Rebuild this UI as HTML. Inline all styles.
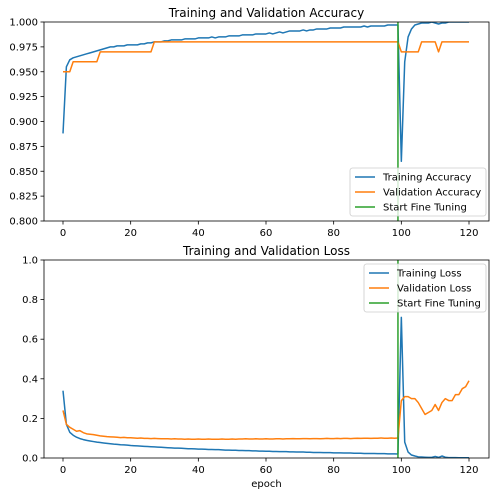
<!DOCTYPE html>
<html><head><meta charset="utf-8"><style>
html,body{margin:0;padding:0;background:#fff;}
svg{display:block;font-family:"DejaVu Sans","Liberation Sans",sans-serif;}
</style></head><body>
<svg id="c" width="496" height="496" xmlns="http://www.w3.org/2000/svg"></svg>
<script>
const epochs = Array.from({length:121},(_, i)=>i);
const trainAcc = [0.888,0.955,0.962,0.964,0.965,0.966,0.967,0.968,0.969,0.970,
0.971,0.972,0.973,0.974,0.975,0.975,0.976,0.976,0.976,0.977,
0.977,0.977,0.977,0.978,0.978,0.979,0.979,0.980,0.980,0.980,
0.981,0.981,0.982,0.982,0.982,0.982,0.983,0.983,0.983,0.983,
0.984,0.984,0.984,0.984,0.985,0.984,0.985,0.985,0.985,0.986,
0.986,0.986,0.986,0.987,0.987,0.987,0.987,0.988,0.988,0.988,
0.988,0.989,0.988,0.989,0.990,0.989,0.990,0.991,0.991,0.991,
0.991,0.992,0.991,0.992,0.992,0.993,0.993,0.993,0.993,0.994,
0.994,0.994,0.994,0.995,0.995,0.995,0.995,0.995,0.995,0.996,
0.995,0.996,0.996,0.996,0.996,0.996,0.997,0.997,0.997,0.997,
0.860,0.960,0.985,0.993,0.997,0.998,0.999,0.999,0.999,1.000,0.999,0.998,0.999,0.999,1.000,1.000,1.000,1.000,1.000,1.000,1.000];
const valAcc = [0.95,0.95,0.95,0.96,0.96,0.96,0.96,0.96,0.96,0.96,
0.96,0.97,0.97,0.97,0.97,0.97,0.97,0.97,0.97,0.97,
0.97,0.97,0.97,0.97,0.97,0.97,0.97,0.98,0.98,0.98,
0.98,0.98,0.98,0.98,0.98,0.98,0.98,0.98,0.98,0.98,
0.98,0.98,0.98,0.98,0.98,0.98,0.98,0.98,0.98,0.98,
0.98,0.98,0.98,0.98,0.98,0.98,0.98,0.98,0.98,0.98,
0.98,0.98,0.98,0.98,0.98,0.98,0.98,0.98,0.98,0.98,
0.98,0.98,0.98,0.98,0.98,0.98,0.98,0.98,0.98,0.98,
0.98,0.98,0.98,0.98,0.98,0.98,0.98,0.98,0.98,0.98,
0.98,0.98,0.98,0.98,0.98,0.98,0.98,0.98,0.98,0.98,
0.97,0.97,0.97,0.97,0.97,0.97,0.98,0.98,0.98,0.98,0.98,0.97,0.98,0.98,0.98,0.98,0.98,0.98,0.98,0.98,0.98];
const trainLoss = [0.34,0.17,0.13,0.115,0.105,0.098,0.093,0.089,0.086,0.083,
0.080,0.078,0.076,0.074,0.072,0.070,0.069,0.067,0.066,0.065,
0.063,0.062,0.061,0.060,0.059,0.058,0.057,0.056,0.055,0.054,
0.053,0.052,0.051,0.050,0.050,0.049,0.048,0.047,0.047,0.046,
0.045,0.045,0.044,0.043,0.043,0.042,0.042,0.041,0.040,0.040,
0.039,0.039,0.038,0.038,0.037,0.037,0.036,0.036,0.035,0.035,
0.034,0.034,0.033,0.033,0.032,0.032,0.032,0.031,0.031,0.030,
0.030,0.030,0.029,0.029,0.028,0.028,0.028,0.027,0.027,0.027,
0.026,0.026,0.026,0.025,0.025,0.025,0.024,0.024,0.024,0.023,
0.023,0.023,0.023,0.022,0.022,0.022,0.021,0.021,0.021,0.020,
0.71,0.08,0.03,0.015,0.01,0.006,0.005,0.004,0.003,0.003,0.008,0.003,0.01,0.004,0.002,0.002,0.002,0.001,0.001,0.001,0.001];
const valLoss = [0.24,0.17,0.155,0.145,0.135,0.138,0.128,0.122,0.12,0.118,
0.115,0.112,0.11,0.108,0.107,0.106,0.105,0.103,0.104,0.102,
0.102,0.101,0.100,0.101,0.099,0.099,0.098,0.099,0.098,0.097,
0.097,0.097,0.096,0.097,0.096,0.096,0.095,0.096,0.095,0.095,
0.096,0.095,0.095,0.096,0.095,0.095,0.095,0.096,0.095,0.095,
0.096,0.095,0.096,0.096,0.097,0.096,0.096,0.097,0.096,0.096,
0.097,0.096,0.096,0.097,0.097,0.096,0.097,0.097,0.098,0.097,
0.097,0.098,0.098,0.097,0.098,0.098,0.097,0.098,0.099,0.098,
0.098,0.099,0.098,0.099,0.099,0.098,0.099,0.100,0.099,0.100,
0.100,0.099,0.100,0.100,0.101,0.100,0.100,0.101,0.100,0.101,
0.29,0.31,0.31,0.30,0.30,0.28,0.25,0.22,0.23,0.24,0.27,0.24,0.28,0.30,0.29,0.29,0.32,0.32,0.35,0.36,0.39];
const fineTuneEpoch = [99];
const xTicks = [0,20,40,60,80,100,120];
const accTicks = ["0.800","0.825","0.850","0.875","0.900","0.925","0.950","0.975","1.000"];
const lossTicks = ["0.0","0.2","0.4","0.6","0.8","1.0"];

const NS="http://www.w3.org/2000/svg";
const svg=document.getElementById('c');
function mk(t,a,p){const e=document.createElementNS(NS,t);for(const k in a)e.setAttribute(k,a[k]);(p||svg).appendChild(e);return e;}
const L=44,R=489;
const xs=v=>63+(v/120)*406;
function panel(top,bot,ymin,ymax,ticks,title,s1,s2,n1,n2,legend,id){
  const ys=v=>bot-(v-ymin)/(ymax-ymin)*(bot-top);
  const g=mk('g',{});
  
  
  const cp=mk('clipPath',{id:'cp'+id},g);mk('rect',{x:L,y:top,width:R-L,height:bot-top},cp);
  const t=mk('text',{x:(L+R)/2,y:top-5,'text-anchor':'middle','font-size':'12'},g);t.textContent=title;
  
  
  ticks.forEach(tk=>{const v=parseFloat(tk),y=ys(v);
    mk('line',{x1:L-3.5,x2:L,y1:y,y2:y,stroke:'#000','stroke-width':0.8},g);
    const tx=mk('text',{x:L-6,y:y+3.5,'text-anchor':'end','font-size':'10'},g);tx.textContent=tk;
    
    });
  xTicks.forEach(v=>{const x=xs(v);
    mk('line',{x1:x,x2:x,y1:bot,y2:bot+3.5,stroke:'#000','stroke-width':0.8},g);
    const tx=mk('text',{x:x,y:bot+15,'text-anchor':'middle','font-size':'10'},g);tx.textContent=v;
    
    });
  const cg=mk('g',{'clip-path':'url(#cp'+id+')'},g);
  [[s1,'#1f77b4',n1],[s2,'#ff7f0e',n2]].forEach(([s,c,n])=>{
    const p=mk('polyline',{points:s.map((v,i)=>xs(epochs[i])+','+ys(v)).join(' '),fill:'none',stroke:c,'stroke-width':1.5,'stroke-linejoin':'round'},cg);
    
    });
  const fl=mk('line',{x1:xs(fineTuneEpoch[0]),x2:xs(fineTuneEpoch[0]),y1:top,y2:bot,stroke:'#2ca02c','stroke-width':1.5},cg);
  
  
  mk('rect',{x:L,y:top,width:R-L,height:bot-top,fill:'none',stroke:'#000','stroke-width':0.8},g);
  const lg=mk('g',{},g);
  
  
  mk('rect',{x:legend.x,y:legend.y,width:legend.w,height:48,rx:2.5,fill:'#fff','fill-opacity':0.8,stroke:'#ccc','stroke-width':0.8},lg);
  legend.labels.forEach((lb,i)=>{const y=legend.y+9+i*15;
    mk('line',{x1:legend.x+5,x2:legend.x+25,y1:y,y2:y,stroke:['#1f77b4','#ff7f0e','#2ca02c'][i],'stroke-width':1.5},lg);
    const tx=mk('text',{x:legend.x+33,y:y+3.5,'font-size':'10'},lg);tx.textContent=lb;
    
    });
}
panel(22,221,0.8,1.0,accTicks,'Training and Validation Accuracy',trainAcc,valAcc,'training-accuracy-line','validation-accuracy-line',{x:350,y:168,w:136,labels:['Training Accuracy','Validation Accuracy','Start Fine Tuning']},'accuracy');
panel(260,458,0,1,lossTicks,'Training and Validation Loss',trainLoss,valLoss,'training-loss-line','validation-loss-line',{x:364,y:264,w:122,labels:['Training Loss','Validation Loss','Start Fine Tuning']},'loss');
const xl=mk('text',{x:(L+R)/2,y:487,'text-anchor':'middle','font-size':'10'});xl.textContent='epoch';


</script>
</body></html>
